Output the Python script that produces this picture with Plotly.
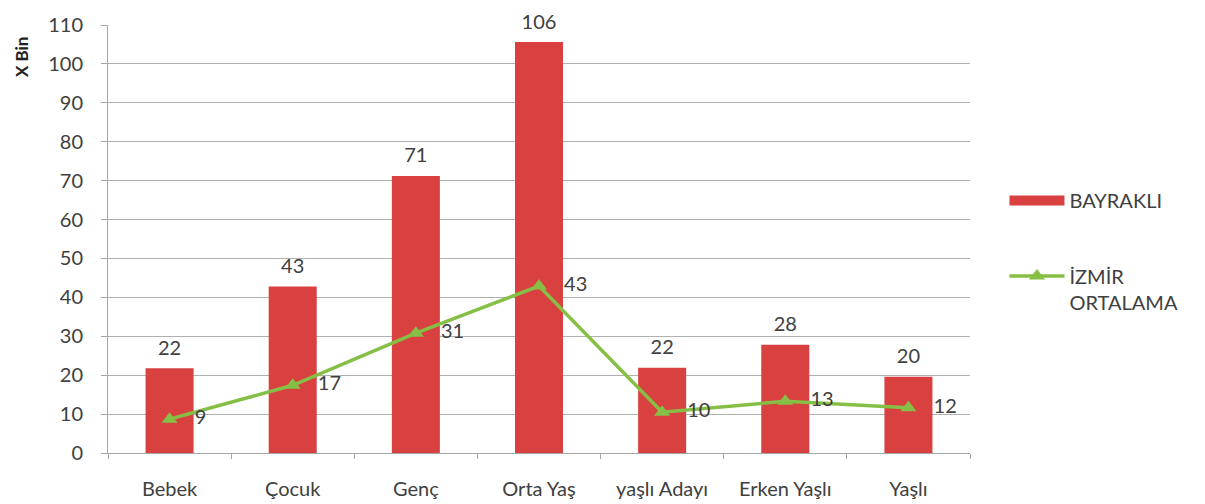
import plotly.graph_objects as go

categories = ["Bebek", "Çocuk", "Genç", "Orta Yaş", "yaşlı Adayı", "Erken Yaşlı", "Yaşlı"]
bayrakli = [21.8, 42.8, 71.2, 105.6, 21.9, 27.8, 19.6]
izmir_ortalama = [8.7, 17.4, 30.8, 42.9, 10.5, 13.3, 11.6]
y_ticks = list(range(0, 111, 10))

font_family = "Lato, Open Sans, sans-serif"
text_color = "#404040"
fs = 20
red = "#D94040"
green = "#86BF45"

fig = go.Figure()
fig.add_trace(go.Bar(
    x=categories, y=bayrakli, name="BAYRAKLI",
    marker=dict(color=red, line=dict(width=0)),
    width=0.39, showlegend=False, hoverinfo="skip",
))
# bar value labels, lifted a little above the bar tops
fig.add_trace(go.Scatter(
    x=categories, y=bayrakli, mode="markers+text",
    marker=dict(size=12, color="rgba(0,0,0,0)"),
    text=[f"{v:.0f}" for v in bayrakli], textposition="top center",
    textfont=dict(size=fs, color=text_color, family=font_family),
    cliponaxis=False, showlegend=False, hoverinfo="skip",
))
# legend-only entry mimicking the wide Excel swatch
fig.add_trace(go.Scatter(
    x=[None], y=[None], name="BAYRAKLI", mode="lines",
    line=dict(color=red, width=12), legend="legend",
))
fig.add_trace(go.Scatter(
    x=categories, y=izmir_ortalama, name="İZMİR<br>ORTALAMA",
    mode="lines+markers+text",
    line=dict(color=green, width=3.5),
    marker=dict(symbol="triangle-up", size=14, color=green),
    text=["\u00a0\u00a0\u00a0" + f"{v:.0f}" for v in izmir_ortalama], textposition="middle right",
    textfont=dict(size=fs, color=text_color, family=font_family),
    cliponaxis=False, legend="legend2",
))

W, H = 1197, 496
L, T, R, B = 100, 17, 235, 51

legend_common = dict(
    xanchor="left", font=dict(size=fs, color=text_color, family=font_family),
    itemwidth=55, bgcolor="rgba(0,0,0,0)", valign="top",
)
fig.update_layout(
    width=W, height=H,
    margin=dict(l=L, r=R, t=T, b=B),
    paper_bgcolor="white", plot_bgcolor="white",
    font=dict(family=font_family, size=fs, color=text_color),
    showlegend=True,
    legend=dict(x=1.040, y=0.59, yanchor="middle", **legend_common),
    legend2=dict(x=1.040, y=0.459, yanchor="top", **legend_common),
    annotations=[dict(
        text="<b>X Bin</b>", textangle=-90, xref="paper", yref="paper",
        x=-0.101, y=0.925, xanchor="center", yanchor="middle", showarrow=False,
        font=dict(size=17, color="#222222", family=font_family),
    )],
)
fig.update_xaxes(
    type="category", showline=True, linecolor="#A6A6A6", linewidth=1,
    ticks="outside", tickson="boundaries", ticklen=5, tickcolor="#A6A6A6",
    showgrid=False, tickfont=dict(size=fs, color=text_color),
    ticklabelstandoff=18, automargin=False,
)
fig.update_yaxes(
    range=[0, 110], tickvals=y_ticks, showline=True, linecolor="#A6A6A6", linewidth=1,
    ticks="outside", ticklen=6, tickcolor="#A6A6A6",
    showgrid=True, gridcolor="#B0B0B0", gridwidth=1, zeroline=False,
    tickfont=dict(size=fs, color=text_color),
    ticklabelstandoff=14, automargin=False,
)

fig.write_html("out.html")
